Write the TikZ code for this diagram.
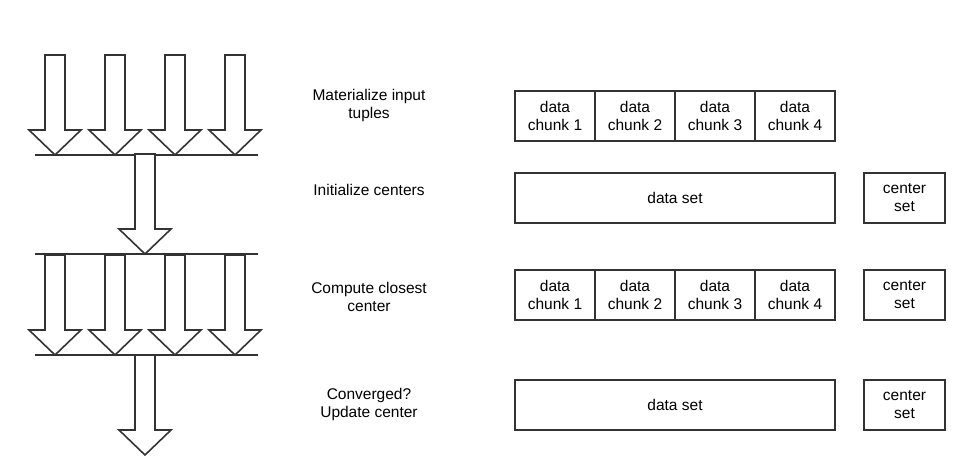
\documentclass[tikz,border=0pt]{standalone}
\usepackage{fontspec}
\setmainfont{Liberation Sans}
\usepackage{tikz}
\definecolor{ink}{HTML}{333333}
\tikzset{
  every node/.style={font=\fontsize{15.5}{18}\selectfont, text=black},
  box/.style={draw=ink, line width=1.6pt, minimum height=50pt, align=center, inner sep=0pt},
  chunk/.style={box, minimum width=80pt},
  bigset/.style={box, minimum width=320pt},
  centerset/.style={box, minimum width=81pt},
  step label/.style={align=center},
  blockarrow/.style={draw=ink, fill=white, line width=1.6pt, line join=miter},
  bar/.style={draw=ink, line width=1.6pt}
}
% block arrow pointing down, tip at (#1,#2)
\newcommand{\downblock}[2]{%
  \draw[blockarrow] (#1-10,#2-100) -- (#1+10,#2-100) -- (#1+10,#2-25) -- (#1+26,#2-25)
    -- (#1,#2) -- (#1-26,#2-25) -- (#1-10,#2-25) -- cycle;}
\begin{document}
\begin{tikzpicture}[x=1pt,y=-1pt]
  \useasboundingbox (0,0) rectangle (969,475);

  % left: flow of arrows
  \foreach \x in {55,115,175,235} {\downblock{\x}{155}}
  \coordinate (bar1-l) at (35,155);
  \coordinate (bar1-r) at (258,155);
  \draw[bar] (bar1-l) -- (bar1-r);
  \downblock{145}{254}
  \coordinate (bar2-l) at (35,254);
  \coordinate (bar2-r) at (258,254);
  \draw[bar] (bar2-l) -- (bar2-r);
  \foreach \x in {55,115,175,235} {\downblock{\x}{355}}
  \coordinate (bar3-l) at (35,355);
  \coordinate (bar3-r) at (258,355);
  \draw[bar] (bar3-l) -- (bar3-r);
  \downblock{145}{455}

  % step labels
  \node[step label] (materialize) at (369,105) {Materialize input\\tuples};
  \node[step label] (init)        at (369,190) {Initialize centers};
  \node[step label] (closest)     at (369,297) {Compute closest\\center};
  \node[step label] (converged)   at (369,404) {Converged?\\Update center};

  % right: data
  \foreach \i in {1,...,4} {
    \node[chunk] (chunk-a-\i) at (475+80*\i,116) {data\\chunk \i};
  }
  \node[bigset]    (dataset-b)   at (675,198) {data set};
  \node[centerset] (centerset-b) at (904.5,198) {center\\set};
  \foreach \i in {1,...,4} {
    \node[chunk] (chunk-c-\i) at (475+80*\i,295) {data\\chunk \i};
  }
  \node[centerset] (centerset-c) at (904.5,295) {center\\set};
  \node[bigset]    (dataset-d)   at (675,405) {data set};
  \node[centerset] (centerset-d) at (904.5,405) {center\\set};
\end{tikzpicture}
\end{document}
